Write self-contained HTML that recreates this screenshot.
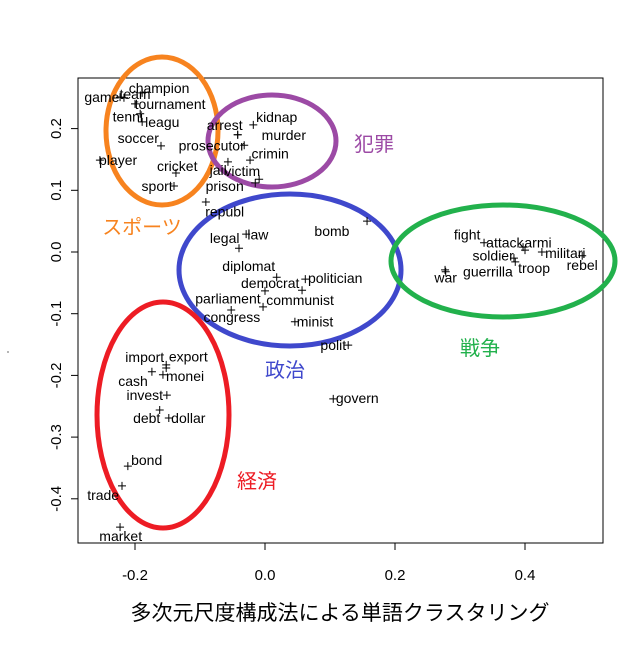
<!DOCTYPE html>
<html><head><meta charset="utf-8"><style>
body{margin:0;background:#fff}
svg text{font-family:"Liberation Sans","Noto Sans CJK JP",sans-serif}
</style></head><body>
<svg id="c" width="643" height="642" viewBox="0 0 643 642">
<rect x="78" y="78" width="525" height="465" fill="none" stroke="#000" stroke-width="1"/>
<g id="axes"></g>
<g id="ellipses">
<ellipse cx="162" cy="131" rx="56" ry="74" fill="none" stroke="#f7831f" stroke-width="5"/>
<ellipse cx="272" cy="141" rx="64" ry="46" fill="none" stroke="#9c4aa5" stroke-width="5"/>
<ellipse cx="290" cy="270" rx="111" ry="76" fill="none" stroke="#3f48cc" stroke-width="5"/>
<ellipse cx="503" cy="261" rx="112" ry="56" fill="none" stroke="#22b14c" stroke-width="5"/>
<ellipse cx="163" cy="415" rx="66" ry="113" fill="none" stroke="#ed1c24" stroke-width="5"/>
</g>
<g id="pts"></g>
<g font-size="20">
<text x="142" y="234" text-anchor="middle" fill="#f7831f">スポーツ</text>
<text x="374" y="151" text-anchor="middle" fill="#9c4aa5">犯罪</text>
<text x="285" y="377" text-anchor="middle" fill="#3f48cc">政治</text>
<text x="480" y="355" text-anchor="middle" fill="#22b14c">戦争</text>
<text x="257" y="488" text-anchor="middle" fill="#ed1c24">経済</text>
</g>
<text x="340" y="620" text-anchor="middle" font-size="21">多次元尺度構成法による単語クラスタリング</text>
<circle cx="8" cy="352" r="0.6" fill="#000"/>
</svg>
<script>
const words=["champion","game","team","tournament","tenni","leagu","soccer","prosecutor","player","cricket","sport","arrest","kidnap","murder","crimin","jail","victim","prison","republ","legal","law","bomb","diplomat","democrat","politician","parliament","communist","congress","minist","polit","govern","fight","attack","armi","militari","rebel","soldier","troop","war","guerrilla","import","export","cash","monei","invest","debt","dollar","bond","trade","market"];
const xs=[-0.189,-0.223,-0.217,-0.200,-0.192,-0.189,-0.160,-0.032,-0.254,-0.137,-0.140,-0.042,-0.018,-0.042,-0.023,-0.057,-0.009,-0.015,-0.091,-0.040,-0.029,0.157,0.018,0.062,0.057,0.000,-0.003,-0.052,0.046,0.128,0.105,0.337,0.397,0.400,0.426,0.488,0.383,0.385,0.277,0.278,-0.152,-0.152,-0.174,-0.157,-0.151,-0.162,-0.148,-0.211,-0.220,-0.223];
const ys=[0.258,0.251,0.250,0.240,0.224,0.211,0.172,0.173,0.149,0.128,0.107,0.190,0.206,0.190,0.149,0.146,0.118,0.112,0.081,0.006,0.029,0.050,-0.041,-0.044,-0.062,-0.063,-0.089,-0.094,-0.113,-0.151,-0.238,0.015,0.008,0.003,0.000,-0.006,-0.010,-0.016,-0.029,-0.032,-0.183,-0.188,-0.194,-0.199,-0.232,-0.256,-0.269,-0.347,-0.379,-0.446];
const lxs=[-0.163,-0.251,-0.200,-0.146,-0.211,-0.158,-0.195,-0.082,-0.226,-0.135,-0.166,-0.062,0.018,0.029,0.008,-0.072,-0.035,-0.062,-0.062,-0.062,-0.011,0.103,-0.025,0.008,0.108,-0.057,0.054,-0.051,0.077,0.105,0.142,0.311,0.369,0.420,0.462,0.488,0.351,0.414,0.278,0.343,-0.185,-0.118,-0.203,-0.123,-0.185,-0.182,-0.118,-0.182,-0.249,-0.222];
const lys=[0.266,0.251,0.256,0.240,0.220,0.211,0.185,0.173,0.149,0.139,0.107,0.206,0.219,0.190,0.160,0.133,0.131,0.107,0.066,0.023,0.028,0.034,-0.023,-0.050,-0.042,-0.075,-0.078,-0.105,-0.113,-0.151,-0.237,0.028,0.015,0.015,-0.002,-0.021,-0.006,-0.026,-0.041,-0.032,-0.170,-0.169,-0.209,-0.201,-0.232,-0.269,-0.269,-0.337,-0.394,-0.460];
const xTicks=[-0.2,0.0,0.2,0.4];
const xTickLabels=["-0.2","0.0","0.2","0.4"];
const yTicks=[0.2,0.1,0.0,-0.1,-0.2,-0.3,-0.4];
const yTickLabels=["0.2","0.1","0.0","-0.1","-0.2","-0.3","-0.4"];
const NS="http://www.w3.org/2000/svg";
function sx(v){return 265+v*650;}
function sy(v){return 252-v*617;}
function mk(t,a,p){const e=document.createElementNS(NS,t);for(const k in a)e.setAttribute(k,a[k]);p.appendChild(e);return e;}
const ax=document.getElementById('axes');
xTicks.forEach((t,i)=>{
  const l=mk('line',{x1:sx(t),x2:sx(t),y1:543,y2:550,stroke:'#000'},ax);
  
  
  const tx=mk('text',{x:sx(t),y:580,'text-anchor':'middle','font-size':'15'},ax);
  tx.textContent=xTickLabels[i];
  
  
});
yTicks.forEach((t,i)=>{
  const l=mk('line',{x1:71,x2:78,y1:sy(t),y2:sy(t),stroke:'#000'},ax);
  
  
  const tx=mk('text',{x:0,y:0,'text-anchor':'middle','font-size':'15',transform:'translate(61,'+sy(t)+') rotate(-90)'},ax);
  tx.textContent=yTickLabels[i];
  
  
});
const pg=document.getElementById('pts');
words.forEach((w,i)=>{
  const x=sx(xs[i]),y=sy(ys[i]);
  const p=mk('path',{d:'M'+(x-4)+' '+y+'H'+(x+4)+'M'+x+' '+(y-4)+'V'+(y+4),stroke:'#000','stroke-width':'1'},pg);
  
  
  const t=mk('text',{x:sx(lxs[i]),y:sy(lys[i])+5,'text-anchor':'middle','font-size':'14'},pg);
  t.textContent=w;
  
  
});
</script>
</body></html>
